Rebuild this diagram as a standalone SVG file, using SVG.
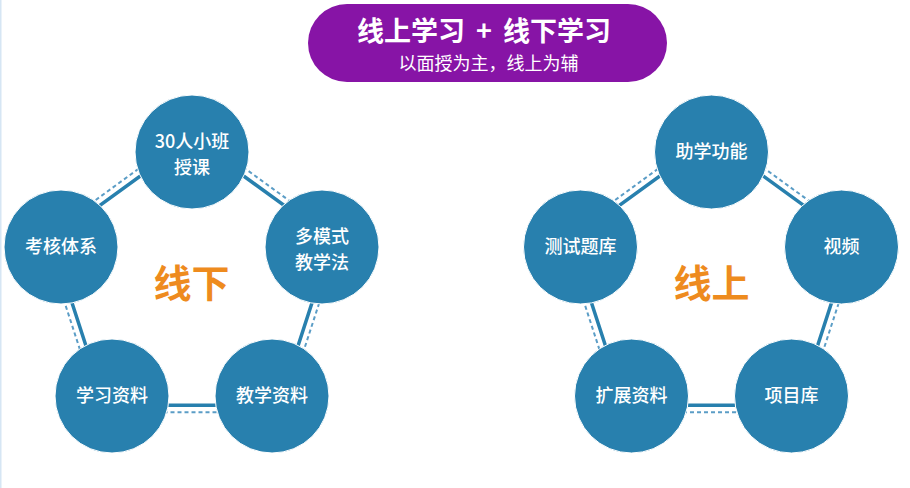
<svg xmlns="http://www.w3.org/2000/svg" width="910" height="488" viewBox="0 0 910 488">
<style>
.node circle{fill:#2880ae;stroke:#ffffff;stroke-width:1}
.node text{fill:#ffffff;font-family:"Noto Sans CJK SC","Noto Sans",sans-serif;font-size:18px;font-weight:500;text-anchor:middle}
.solid{fill:none;stroke:#2880ae;stroke-width:3.5}
.dash{fill:none;stroke:#5b9dc6;stroke-width:2;stroke-dasharray:4 3}
.big{fill:#ee8b1e;font-family:"Noto Sans CJK SC",sans-serif;font-size:38px;font-weight:bold;text-anchor:middle}
.title{fill:#ffffff;font-family:"Noto Sans CJK SC",sans-serif;font-size:27px;font-weight:bold}
</style>
<rect x="0" y="0" width="910" height="488" fill="#ffffff"/>
<line x1="0.75" y1="0" x2="0.75" y2="488" stroke="#d6e6f4" stroke-width="1.5"/>
<g id="banner">
<rect x="308" y="4" width="359" height="78" rx="39" fill="#8714a6"/>
<text class="title" x="465" y="41" text-anchor="end">线上学习</text>
<text class="title" x="484" y="41" text-anchor="middle">+</text>
<text class="title" x="503" y="41" text-anchor="start">线下学习</text>
<text x="488.5" y="70" fill="#ffffff" font-family="Noto Sans CJK SC,sans-serif" font-size="18" text-anchor="middle">以面授为主，线上为辅</text>
</g>
<g id="connectors">
<polygon class="dash" points="192,130 340.4,237.8 283.7,412.2 100.3,412.2 43.6,237.8"/>
<polygon class="solid" points="192,138.5 332.3,240.4 278.7,405.3 105.3,405.3 51.7,240.4"/>
<polygon class="dash" points="711.5,130 859.9,237.8 803.2,412.2 619.8,412.2 563.1,237.8"/>
<polygon class="solid" points="711.5,138.5 851.8,240.4 798.2,405.3 624.8,405.3 571.2,240.4"/>
</g>
<g id="n-30ren" class="node"><circle cx="192" cy="152" r="57"/><text x="192" y="148">30人小班</text><text x="192" y="174">授课</text></g>
<g id="n-duomoshi" class="node"><circle cx="322" cy="247" r="57"/><text x="322" y="243">多模式</text><text x="322" y="269">教学法</text></g>
<g id="n-jiaoxueziliao" class="node"><circle cx="272" cy="396" r="57"/><text x="272" y="402">教学资料</text></g>
<g id="n-xuexiziliao" class="node"><circle cx="112" cy="396" r="57"/><text x="112" y="402">学习资料</text></g>
<g id="n-kaohe" class="node"><circle cx="61" cy="247" r="57"/><text x="61" y="253">考核体系</text></g>
<text class="big" x="191.5" y="297">线下</text>
<g id="n-zhuxue" class="node"><circle cx="711.5" cy="152" r="57"/><text x="711.5" y="158">助学功能</text></g>
<g id="n-shipin" class="node"><circle cx="841.5" cy="247" r="57"/><text x="841.5" y="253">视频</text></g>
<g id="n-xiangmuku" class="node"><circle cx="791.5" cy="396" r="57"/><text x="791.5" y="402">项目库</text></g>
<g id="n-kuozhan" class="node"><circle cx="631.5" cy="396" r="57"/><text x="631.5" y="402">扩展资料</text></g>
<g id="n-ceshi" class="node"><circle cx="580.5" cy="247" r="57"/><text x="580.5" y="253">测试题库</text></g>
<text class="big" x="711.5" y="297">线上</text>
</svg>
